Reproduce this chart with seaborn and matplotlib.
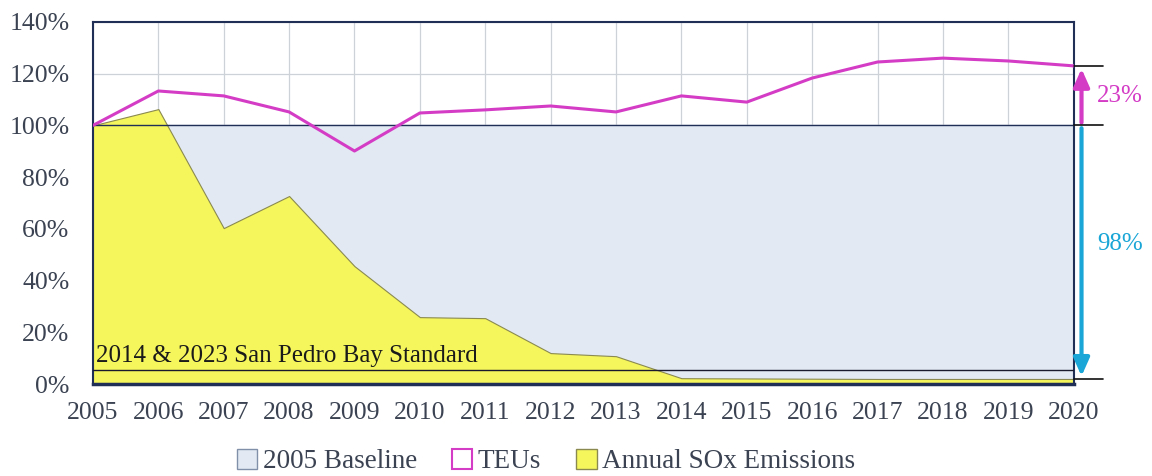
import matplotlib
matplotlib.use("Agg")
import matplotlib.pyplot as plt
import seaborn as sns
import pandas as pd
from matplotlib.patches import Patch

years = list(range(2005, 2021))
teus = [100, 113.3, 111.4, 105.2, 90.1, 104.8, 106.0, 107.5, 105.2, 111.4,
        109.0, 118.3, 124.5, 126.0, 124.9, 123.0]
sox = [100, 106.3, 60.3, 72.7, 45.6, 25.9, 25.5, 12.0, 10.8, 2.3,
       2.2, 2.1, 2.0, 2.0, 2.0, 2.0]
baseline = [100] * len(years)
standard = 5.5
teu_change_label = "23%"
sox_change_label = "98%"

df = pd.DataFrame({"year": years, "teus": teus, "sox": sox, "baseline": baseline})

sns.set_theme(style="white")
plt.rcParams["font.family"] = ["Liberation Serif", "DejaVu Serif"]

navy = "#1f2f55"
magenta = "#d43cc6"
cyan = "#1aa6d6"
yellow = "#f5f55c"
blue_fill = "#e2e9f3"
text_col = "#3b4352"

fig = plt.figure(figsize=(11.52, 4.76), dpi=100)
ax = fig.add_axes([0.0807, 0.193, 0.8513, 0.761])

ax.fill_between(df["year"], 0, df["baseline"], color=blue_fill, zorder=1)
ax.plot(df["year"], df["baseline"], color=navy, lw=1.0, zorder=3)
ax.fill_between(df["year"], 0, df["sox"], color=yellow, edgecolor="#8a8a50",
                lw=0.8, zorder=2)
sns.lineplot(data=df, x="year", y="teus", color=magenta, lw=2.2, ax=ax, zorder=5)

ax.axhline(standard, color="#1a1a2e", lw=1.0, zorder=4)
ax.text(2005.05, standard + 1.2, "2014 & 2023 San Pedro Bay Standard",
        fontsize=18, color="#1a1a1a", va="bottom", ha="left", zorder=6)

ax.set_xlim(2005, 2020)
ax.set_ylim(0, 140)
ax.set_xticks(years)
ax.set_yticks(range(0, 141, 20))
ax.set_yticklabels([f"{v}%" for v in range(0, 141, 20)])
ax.grid(True, color="#cdd1d8", lw=0.9, zorder=0)
ax.set_axisbelow(True)
ax.set_xlabel("")
ax.set_ylabel("")
ax.tick_params(axis="both", labelsize=18.5, colors=text_col, length=6,
               direction="out", width=1, pad=7)
ax.tick_params(axis="y", pad=11)
ax.tick_params(axis="both", color="#7a8aa8")
for s in ax.spines.values():
    s.set_color(navy)
    s.set_linewidth(1.5)
ax.spines["bottom"].set_linewidth(2.5)

# change markers at the right edge
x_arrow = 2020.12
for y in (teus[-1], 100, sox[-1]):
    ax.plot([2020, 2020.45], [y, y], color="#111111", lw=1.2, clip_on=False, zorder=6)
ax.annotate("", xy=(x_arrow, teus[-1]), xytext=(x_arrow, 100),
            arrowprops=dict(arrowstyle="-|>,head_length=0.9,head_width=0.4",
                            color=magenta, lw=3), annotation_clip=False)
ax.annotate("", xy=(x_arrow, sox[-1]), xytext=(x_arrow, 100),
            arrowprops=dict(arrowstyle="-|>,head_length=0.9,head_width=0.4",
                            color=cyan, lw=3), annotation_clip=False)
ax.text(2020.36, (teus[-1] + 100) / 2, teu_change_label, color=magenta,
        fontsize=18, va="center", ha="left")
ax.text(2020.36, 54, sox_change_label, color=cyan, fontsize=18,
        va="center", ha="left")

handles = [
    Patch(facecolor=blue_fill, edgecolor="#8090a8", lw=1, label="2005 Baseline"),
    Patch(facecolor="white", edgecolor=magenta, lw=1.5, label="TEUs"),
    Patch(facecolor=yellow, edgecolor="#8a8a50", lw=1, label="Annual SOx Emissions"),
]
fig.legend(handles=handles, loc="lower center", bbox_to_anchor=(0.474, -0.048),
           ncol=3, frameon=False, fontsize=19.5, handlelength=0.75, handleheight=0.75,
           handletextpad=0.2, columnspacing=1.3, labelcolor=text_col)

fig.savefig("out.png", dpi=100)
